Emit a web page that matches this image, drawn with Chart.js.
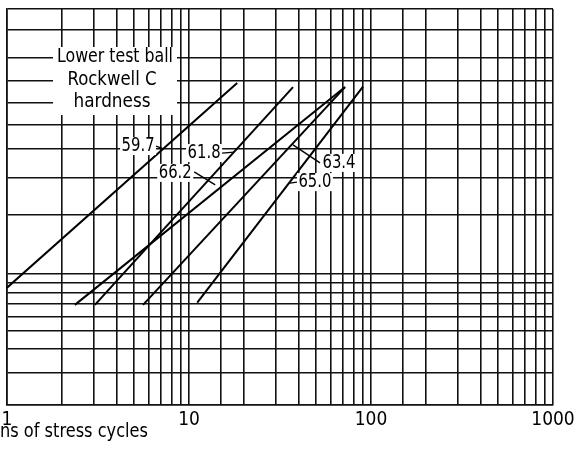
<!DOCTYPE html>
<html>
<head>
<meta charset="utf-8">
<script src="https://cdn.jsdelivr.net/npm/chart.js@4"></script>
<style>
  html, body { margin: 0; padding: 0; background: #fff; }
  canvas { display: block; }
</style>
</head>
<body>
<canvas id="grafico" width="575" height="458"></canvas>
<script>
// x: millions of stress cycles (log), y: percent of failures on Weibull paper
const majorTicks = [1, 10, 100, 1000];
const gridPercents = [2, 3, 4, 5, 6, 7, 8, 9, 10, 20, 30, 40, 50, 60, 70, 80, 90, 95];

const hardness = ["59.7", "61.8", "66.2", "63.4", "65.0"];
const startCycles = [1.0, 3.04, 2.36, 5.59, 11.1];
const startPercent = [8.5, 6.9, 6.9, 6.9, 7.1];
const endCycles = [18.4, 37.3, 72, 72, 90.4];
const endPercent = [69.2, 67.3, 67.3, 67.3, 67.5];

// where each hardness label sits
const labelCycles = [5.25, 12.1, 8.4, 66.7, 49.2];
const labelPercent = [41.2, 38.5, 31.5, 34.9, 28.6];

const boxText = ["Lower test ball", "Rockwell C", "hardness"];
const axisTitle = "ns of stress cycles";

const FAMILY = "'DejaVu Sans Condensed', 'DejaVu Sans', sans-serif";

function weibull(p) {
    return Math.log(-Math.log(1 - p / 100));
}

function fitText(ctx, text, x, y, width, size, align) {
    ctx.font = size + "px " + FAMILY;
    const w = ctx.measureText(text).width;
    ctx.save();
    ctx.translate(x, y);
    ctx.scale(width / w, 1);
    ctx.textAlign = align || "center";
    ctx.textBaseline = "middle";
    ctx.fillStyle = "#000";
    ctx.fillText(text, 0, 0);
    ctx.restore();
}

const anotaciones = {
    id: "anotaciones",
    afterDatasetsDraw(chart) {
        const ctx = chart.ctx;
        const xs = chart.scales.x;
        const ys = chart.scales.y;

        // white box behind the legend text
        ctx.fillStyle = "#fff";
        ctx.fillRect(53, 47, 124, 68);
        fitText(ctx, boxText[0], 115, 57, 116, 20);
        fitText(ctx, boxText[1], 112, 80, 89, 20);
        fitText(ctx, boxText[2], 112, 102, 77, 20);

        const leaders = [
            [18, 0, 26, 3],
            [18, 0, 30, -1],
            [19, -1, 40, 12],
            [-19, 0, -46, -18],
            [-18, 0, -25, 1]
        ];

        hardness.forEach((h, i) => {
            const cx = xs.getPixelForValue(labelCycles[i]);
            const cy = ys.getPixelForValue(weibull(labelPercent[i]));
            ctx.fillStyle = "#fff";
            ctx.fillRect(cx - 18, cy - 9, 36, 18);
            fitText(ctx, h, cx, cy, 33, 20);
            const l = leaders[i];
            ctx.beginPath();
            ctx.strokeStyle = "#000";
            ctx.lineWidth = 1.3;
            ctx.moveTo(cx + l[0], cy + l[1]);
            ctx.lineTo(cx + l[2], cy + l[3]);
            ctx.stroke();
        });

        fitText(ctx, axisTitle, 0, 432, 148, 20, "left");
    }
};

const datasets = hardness.map((h, i) => ({
    label: h,
    data: [
        { x: startCycles[i], y: weibull(startPercent[i]) },
        { x: endCycles[i], y: weibull(endPercent[i]) }
    ],
    borderColor: "#000",
    borderWidth: 2,
    pointRadius: 0,
    fill: false,
    tension: 0
}));

const ctx = document.getElementById("grafico").getContext("2d");
new Chart(ctx, {
    type: "line",
    data: { datasets: datasets },
    options: {
        responsive: false,
        animation: false,
        layout: { padding: { left: 7, top: 9, right: 22, bottom: 0 } },
        plugins: {
            legend: { display: false },
            tooltip: { enabled: false }
        },
        scales: {
            x: {
                type: "logarithmic",
                min: 1,
                max: 1000,
                afterFit(scale) { scale.height = 53; },
                grid: { color: "#111", lineWidth: 1.6, drawTicks: false },
                border: { color: "#111", width: 1.6 },
                ticks: {
                    autoSkip: false,
                    maxRotation: 0,
                    padding: 0,
                    color: "#000",
                    font: { family: FAMILY, size: 19, lineHeight: 1.6 },
                    callback: value => majorTicks.includes(value) ? String(value) : ""
                }
            },
            y: {
                type: "linear",
                min: weibull(2),
                max: weibull(95),
                afterFit(scale) { scale.width = 0; },
                afterBuildTicks(scale) {
                    scale.ticks = gridPercents.map(p => ({ value: weibull(p) }));
                },
                grid: { color: "#111", lineWidth: 1.6, drawTicks: false },
                border: { color: "#111", width: 1.6 },
                ticks: { display: false }
            }
        }
    },
    plugins: [anotaciones]
});
</script>
</body>
</html>
